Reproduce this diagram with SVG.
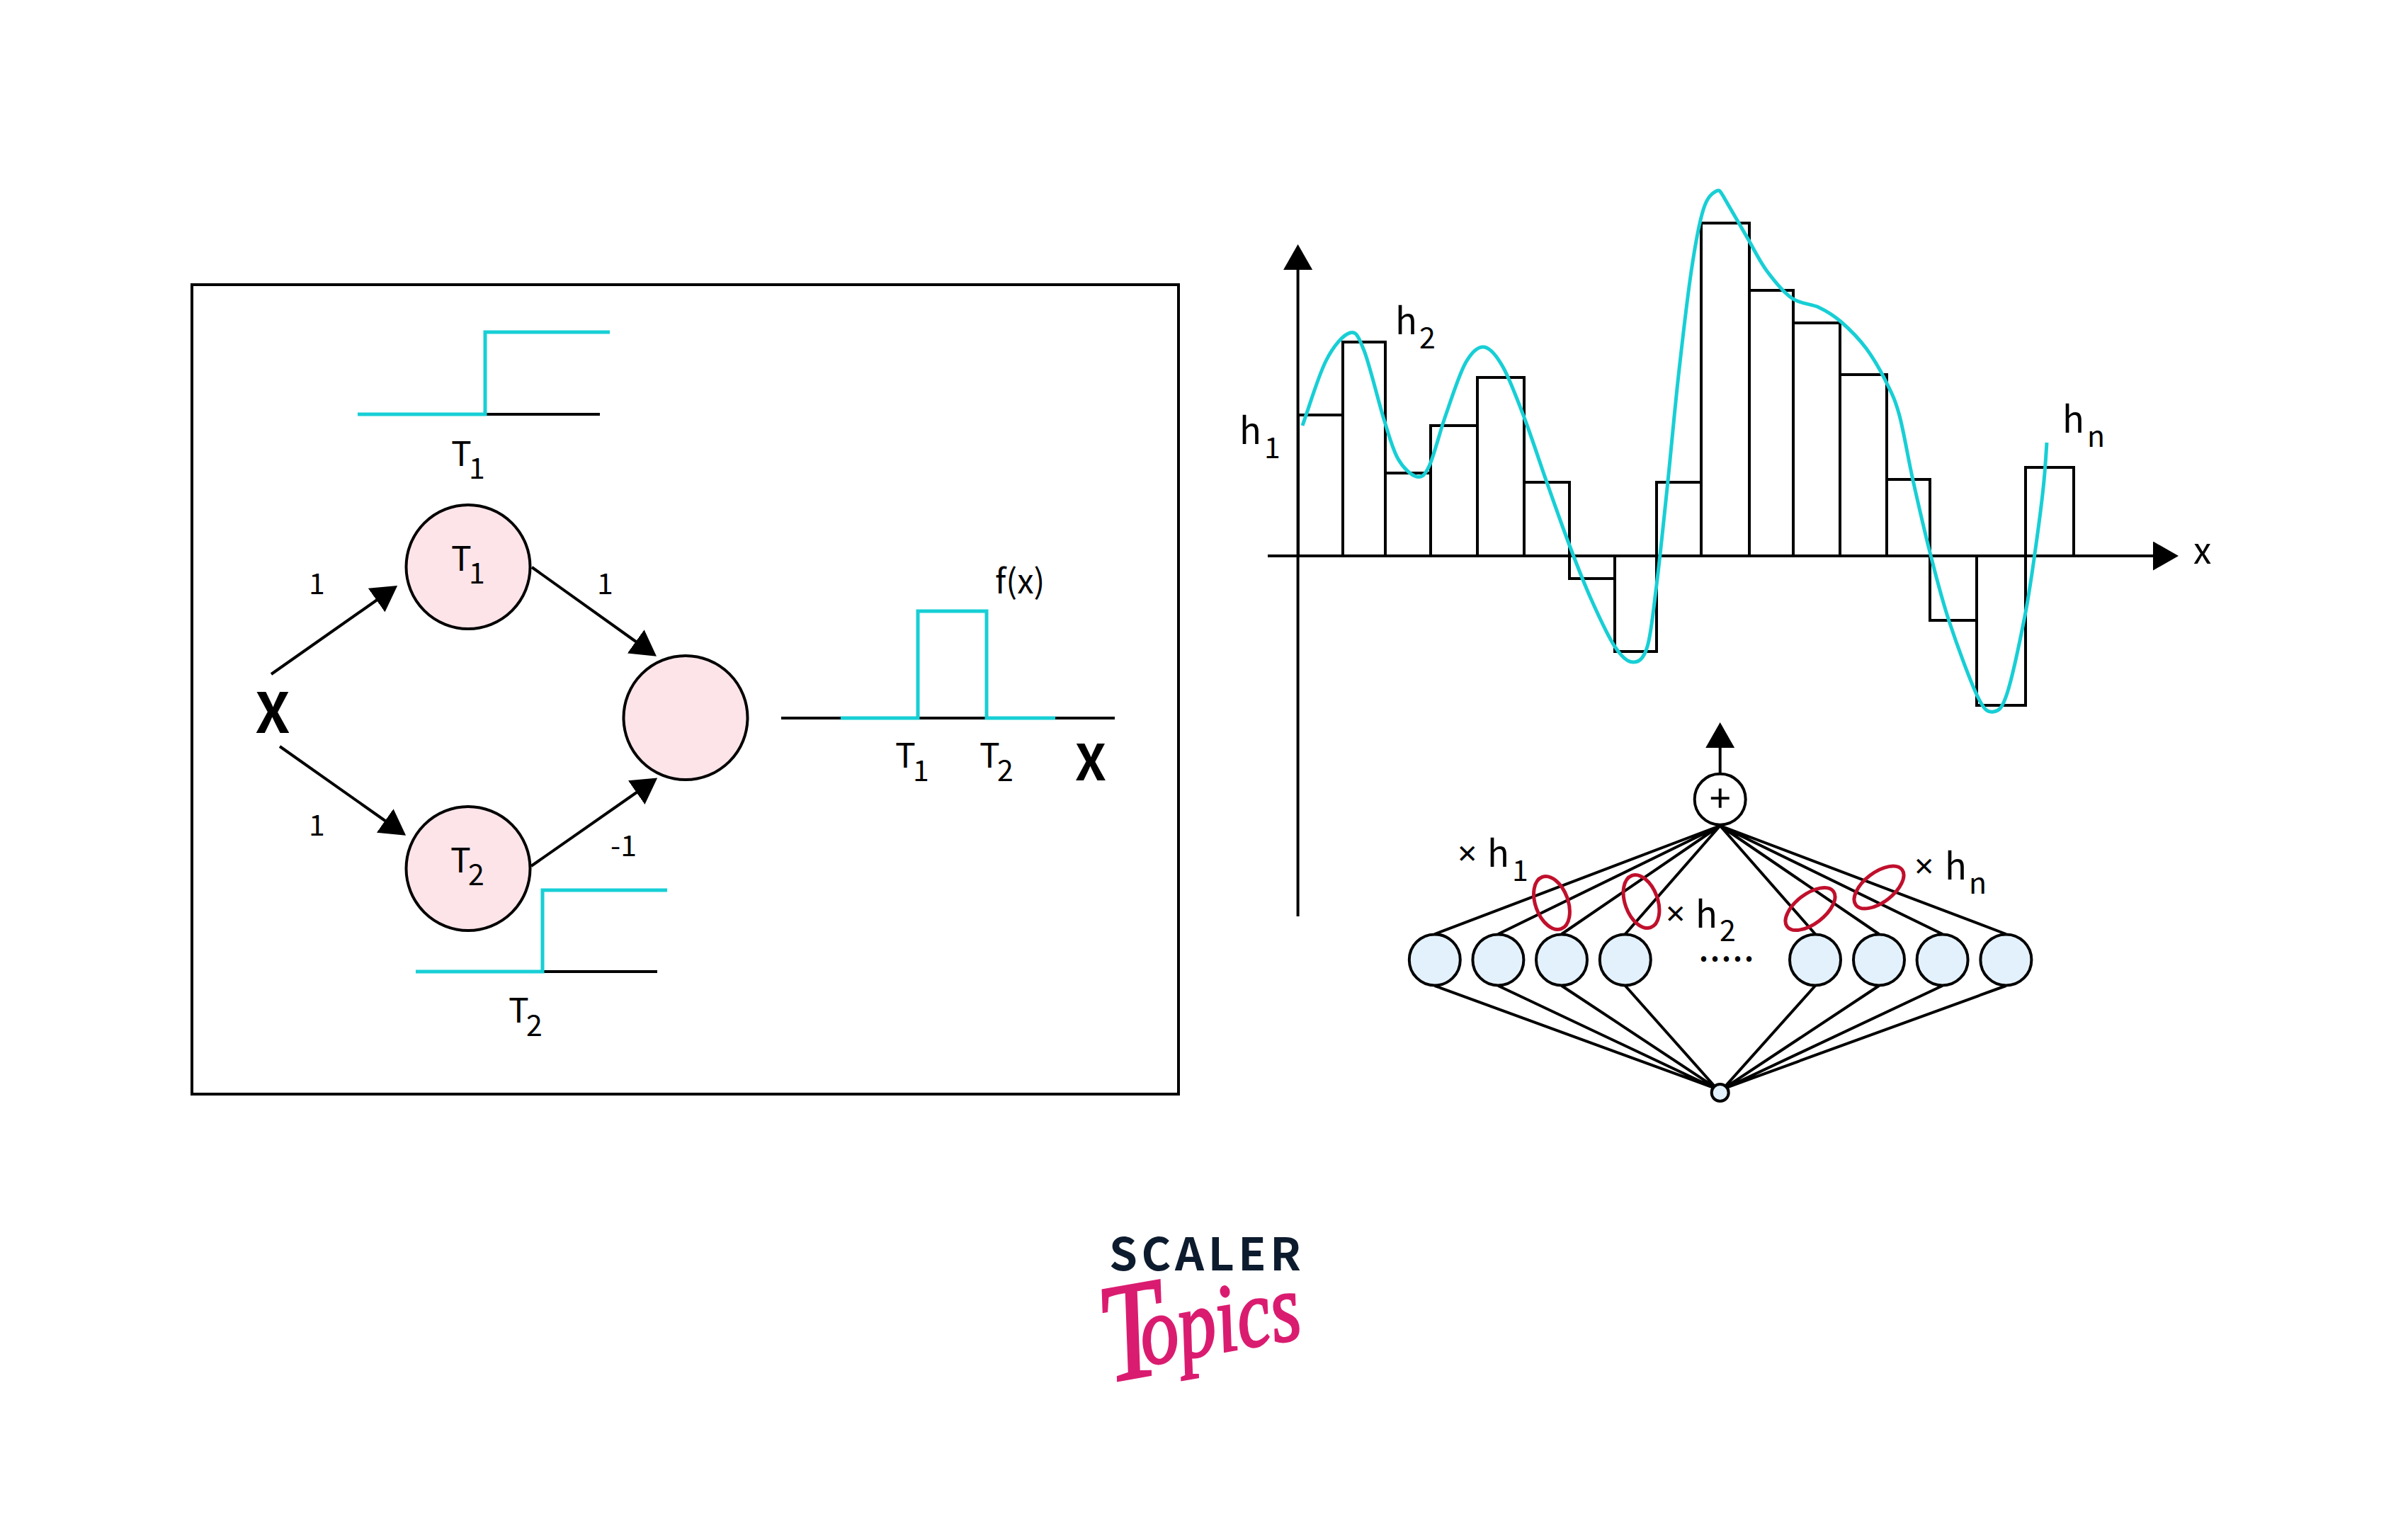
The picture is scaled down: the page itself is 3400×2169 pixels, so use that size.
<svg xmlns="http://www.w3.org/2000/svg" width="3400" height="2169" viewBox="0 0 3400 2169">
<style>
text{font-family:"Noto Sans CJK SC","Noto Sans",sans-serif;fill:#000}
.m{font-size:48px}.s{font-size:41px}.h{font-size:51px}.b{font-size:78px;font-weight:700}
.t{font-family:"Noto Sans",sans-serif;font-size:48px}
.k{fill:none;stroke:#000;stroke-width:4}
.c{fill:none;stroke:#17cfd5;stroke-width:5}
.pink{fill:#fde4e9;stroke:#000;stroke-width:4}
.blue{fill:#e3f1fc;stroke:#000;stroke-width:4}
.red{fill:none;stroke:#c0102c;stroke-width:5}
</style>
<defs><marker id="ah" viewBox="0 0 36 41" refX="1" refY="20.5" markerWidth="36" markerHeight="41" markerUnits="userSpaceOnUse" orient="auto"><path d="M0 0L36 20.5L0 41Z" fill="#000"/></marker></defs>
<rect width="3400" height="2169" fill="#fff"/>
<rect id="frame" class="k" x="271" y="402" width="1393" height="1143"/>

<g id="step-t1">
<path class="k" d="M685 585H847"/><path class="c" d="M505 585H685V469H861"/>
<text class="m" x="637" y="658">T</text><text class="s" x="662" y="676">1</text>
</g>
<g id="step-t2">
<path class="k" d="M766 1372H928"/><path class="c" d="M587 1372H766V1257H942"/>
<text class="m" x="718" y="1444">T</text><text class="s" x="743" y="1463">2</text>
</g>
<g id="output-plot">
<path class="k" d="M1103 1014H1574"/><path class="c" d="M1187 1014H1296V863H1393V1014H1490"/>
<text class="m" x="1264" y="1084">T</text><text class="s" x="1289" y="1103">1</text>
<text class="m" x="1383" y="1084">T</text><text class="s" x="1408" y="1103">2</text>
<text class="b" x="1540" y="1102" text-anchor="middle" style="font-size:70px">X</text>
<text class="m" x="1405" y="838" style="font-size:47px">f(x)</text>
</g>
<g id="connectors-left">
<path class="k" marker-end="url(#ah)" d="M383 952L532.5 847"/>
<path class="k" marker-end="url(#ah)" d="M751 801L898.5 906.5"/>
<path class="k" marker-end="url(#ah)" d="M395 1054L544.5 1159.5"/>
<path class="k" marker-end="url(#ah)" d="M750 1223L899.5 1118.5"/>
<text class="s" x="436" y="839">1</text><text class="s" x="843" y="839">1</text>
<text class="s" x="436" y="1180">1</text><text class="s" x="862" y="1209">-1</text>
</g>
<text id="input-x" class="b" x="385" y="1035" text-anchor="middle">X</text>
<g id="node-t1"><circle class="pink" cx="661" cy="800.5" r="87.5"/><text class="m" x="637" y="806">T</text><text class="s" x="662" y="824">1</text></g>
<g id="node-t2"><circle class="pink" cx="661" cy="1226.5" r="87.5"/><text class="m" x="636" y="1232">T</text><text class="s" x="661" y="1250">2</text></g>
<circle id="node-out" class="pink" cx="968" cy="1013.5" r="87.5"/>

<g id="histogram">
<rect class="k" x="1833" y="586" width="63" height="199"/>
<rect class="k" x="1896" y="483" width="60" height="302"/>
<rect class="k" x="1956" y="668" width="64" height="117"/>
<rect class="k" x="2020" y="601" width="66" height="184"/>
<rect class="k" x="2086" y="533" width="66" height="252"/>
<rect class="k" x="2152" y="681" width="64" height="104"/>
<rect class="k" x="2216" y="785" width="64" height="32"/>
<rect class="k" x="2280" y="785" width="59" height="135"/>
<rect class="k" x="2339" y="681" width="63" height="104"/>
<rect class="k" x="2402" y="315" width="68" height="470"/>
<rect class="k" x="2470" y="410" width="62" height="375"/>
<rect class="k" x="2532" y="456" width="66" height="329"/>
<rect class="k" x="2598" y="529" width="66" height="256"/>
<rect class="k" x="2664" y="677" width="61" height="108"/>
<rect class="k" x="2725" y="785" width="66" height="91"/>
<rect class="k" x="2791" y="785" width="69" height="211"/>
<rect class="k" x="2860" y="660" width="68" height="125"/>
</g>
<g id="axes">
<path class="k" marker-end="url(#ah)" d="M1832.6 1294V380"/>
<path class="k" marker-end="url(#ah)" d="M1790 785H3041"/>
<text class="h" x="3097" y="796">x</text>
</g>
<path id="curve" class="c" d="M1839 601C1850 570 1861 532 1872 510S1897 472.5 1906 470S1918 474.7 1926 495S1946 566.5 1954 592S1966.3 634.5 1974 648S1992.7 671.3 2000 673S2011.2 672.3 2018 658S2032.5 611.2 2041 587S2060 529.2 2069 513S2086.2 489.2 2095 490S2112.3 501 2122 518S2142.7 564.8 2153 592S2173.5 651.3 2184 681S2205.5 742.3 2216 770S2236.3 823.2 2247 847S2270.2 898.3 2280 913S2298.3 935 2306 935S2320.5 931.2 2326 913S2334.3 863.3 2339 826S2348.8 738.3 2354 689S2364.3 581 2370 530S2382.2 422 2388 383S2399.2 314.8 2405 296S2417.8 272.7 2423 270S2428.3 268.5 2436 282S2459.2 321.8 2469 339S2484.8 369.3 2495 383S2517.8 412.5 2530 421S2556.5 428.5 2568 434S2587.8 444.3 2599 454S2624.2 477.5 2635 492S2656.2 525.2 2664 541S2675.8 564.2 2682 587S2693.8 645.8 2701 678S2716.5 746.8 2725 780S2740.7 842.8 2752 877S2782.5 963.7 2793 985S2808.2 1006 2815 1005S2826.7 1001.5 2834 979S2852.3 904 2859 870S2869.7 805.2 2874 775S2882.3 714 2885 689S2888 655 2890 625"/>
<g id="hist-labels">
<text class="h" x="1750" y="627">h</text><text class="s" x="1785" y="647">1</text>
<text class="h" x="1970" y="472">h</text><text class="s" x="2004" y="492">2</text>
<text class="h" x="2912" y="611">h</text><text class="s" x="2947" y="631">n</text>
</g>

<g id="network-connectors">
<path class="k" marker-end="url(#ah)" d="M2428.7 1092V1055"/>
<path class="k" d="M2428.7 1166L2025.8 1319M2428.7 1166L2115.4 1319M2428.7 1166L2205 1319M2428.7 1166L2294.8 1319M2428.7 1166L2563 1319M2428.7 1166L2653 1319M2428.7 1166L2742.6 1319M2428.7 1166L2832.4 1319"/>
<path class="k" d="M2025.8 1392L2420 1536M2115.4 1392L2420 1536M2205 1392L2421 1535M2294.8 1392L2421 1534M2563 1392L2436 1534M2653 1392L2437 1535M2742.6 1392L2437 1536M2832.4 1392L2437 1536"/>
</g>
<g id="node-sum"><circle cx="2428.7" cy="1128.7" r="36" fill="#fff" stroke="#000" stroke-width="4"/><text x="2428.7" y="1147" text-anchor="middle" style="font-size:54px">+</text></g>
<g id="node-a1"><circle class="blue" cx="2025.8" cy="1355.4" r="36"/></g>
<g id="node-a2"><circle class="blue" cx="2115.4" cy="1355.4" r="36"/></g>
<g id="node-a3"><circle class="blue" cx="2205" cy="1355.4" r="36"/></g>
<g id="node-a4"><circle class="blue" cx="2294.8" cy="1355.4" r="36"/></g>
<g id="node-a5"><circle class="blue" cx="2563" cy="1355.4" r="36"/></g>
<g id="node-a6"><circle class="blue" cx="2653" cy="1355.4" r="36"/></g>
<g id="node-a7"><circle class="blue" cx="2742.6" cy="1355.4" r="36"/></g>
<g id="node-a8"><circle class="blue" cx="2832.4" cy="1355.4" r="36"/></g>
<g id="node-input"><circle class="blue" cx="2428.7" cy="1543" r="12"/></g>
<text id="dots" x="2399" y="1357" style="font-size:40px;font-weight:700;letter-spacing:3px">.....</text>
<g id="weights">
<ellipse class="red" cx="2191" cy="1275" rx="23" ry="39" transform="rotate(-20 2191 1275)"/>
<ellipse class="red" cx="2317.5" cy="1273" rx="23" ry="39" transform="rotate(-20 2317.5 1273)"/>
<ellipse class="red" cx="2556" cy="1283.5" rx="21" ry="41" transform="rotate(52.6 2556 1283.5)"/>
<ellipse class="red" cx="2653" cy="1253" rx="21" ry="41" transform="rotate(52.6 2653 1253)"/>
<text class="t" x="2058" y="1222">×</text><text class="h" x="2100" y="1224">h</text><text class="s" x="2135" y="1244">1</text>
<text class="t" x="2352" y="1307">×</text><text class="h" x="2394" y="1310">h</text><text class="s" x="2428" y="1329">2</text>
<text class="t" x="2703" y="1240">×</text><text class="h" x="2746" y="1242">h</text><text class="s" x="2780" y="1262">n</text>
</g>
<g id="logo">
<text x="1566" y="1794" style="font-size:64px;font-weight:700;letter-spacing:5.6px;fill:#0d1b2e">SCALER</text>
<text transform="translate(1565 1952) rotate(-10) scale(.95 1.2)" style='font-family:"Liberation Serif",serif;font-style:italic;fill:#da1c70;stroke:#da1c70;stroke-width:2.5px'><tspan style="font-size:165px">T</tspan><tspan dx="-34" dy="-12" style="font-size:114px">opics</tspan></text>
</g>
</svg>
